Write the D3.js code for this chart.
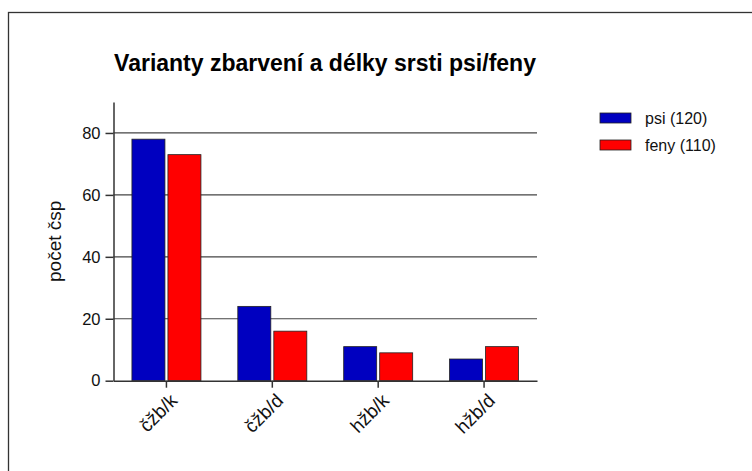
<!DOCTYPE html>
<html>
<head>
<meta charset="utf-8">
<script src="https://cdn.jsdelivr.net/npm/d3@7"></script>
<style>
  body { margin: 0; background: #fff; }
  svg { display: block; font-family: "Liberation Sans", Arial, sans-serif; }
</style>
</head>
<body>
<svg id="chart" width="752" height="471"></svg>
<script>
// data
var categories = ["čžb/k", "čžb/d", "hžb/k", "hžb/d"];
var seriesNames = ["psi (120)", "feny (110)"];
var psi = [78, 24, 11, 7];
var feny = [73, 16, 9, 11];
var yTicks = [0, 20, 40, 60, 80];
var colors = ["#0000c0", "#ff0000"];

var svg = d3.select("#chart");

var margins = { top: 102, left: 113.5, right: 537, bottom: 380.7 };

// outer frame, cut off at right and bottom like in the original
svg.append("rect")
    .attr("x", 8.5).attr("y", 12.5)
    .attr("width", 800).attr("height", 500)
    .attr("fill", "none")
    .attr("stroke", "#333")
    .attr("stroke-width", 1.3);

var x = d3.scaleBand()
    .domain(categories)
    .range([margins.left, margins.right]);

var y = d3.scaleLinear()
    .domain([0, 90])
    .range([margins.bottom, margins.top]);

// gridlines
svg.append("g")
    .selectAll("line")
    .data(yTicks.filter(function(d) { return d > 0; }))
    .enter().append("line")
    .attr("x1", margins.left).attr("x2", margins.right)
    .attr("y1", function(d) { return y(d); })
    .attr("y2", function(d) { return y(d); })
    .attr("stroke", "#444")
    .attr("stroke-width", 1.2);

// bars
var barW = 33, gap = 3;
var rows = [];
categories.forEach(function(c, i) {
    rows.push({ cat: c, s: 0, v: psi[i] });
    rows.push({ cat: c, s: 1, v: feny[i] });
});

svg.append("g")
    .selectAll("rect")
    .data(rows)
    .enter().append("rect")
    .attr("x", function(d) {
        var mid = x(d.cat) + x.bandwidth() / 2;
        return d.s === 0 ? mid - gap / 2 - barW : mid + gap / 2;
    })
    .attr("y", function(d) { return y(d.v); })
    .attr("width", barW)
    .attr("height", function(d) { return y(0) - y(d.v); })
    .attr("fill", function(d) { return colors[d.s]; })
    .attr("stroke", "#222")
    .attr("stroke-width", 0.8);

// y axis
var yAxis = d3.axisLeft(y)
    .tickValues(yTicks)
    .tickSize(8)
    .tickPadding(5)
    .tickSizeOuter(0);

var gy = svg.append("g")
    .attr("transform", "translate(" + margins.left + ",0)")
    .call(yAxis);
gy.select(".domain").attr("stroke", "#333").attr("stroke-width", 1.5);
gy.selectAll(".tick line").attr("stroke", "#333").attr("stroke-width", 1.5);
gy.selectAll(".tick text")
    .attr("font-size", 16.5)
    .attr("font-family", "Liberation Sans, Arial, sans-serif")
    .attr("fill", "#111");

// x axis
var xAxis = d3.axisBottom(x)
    .tickSize(7)
    .tickSizeOuter(0);

var gx = svg.append("g")
    .attr("transform", "translate(0," + margins.bottom + ")")
    .call(xAxis);
gx.select(".domain").attr("stroke", "#333").attr("stroke-width", 1.5);
gx.selectAll(".tick line").attr("stroke", "#333").attr("stroke-width", 1.5);
gx.selectAll(".tick text")
    .attr("font-size", 19)
    .attr("font-family", "Liberation Sans, Arial, sans-serif")
    .attr("fill", "#111")
    .attr("text-anchor", "end")
    .attr("dx", 0)
    .attr("dy", 0)
    .attr("transform", "translate(5,14) rotate(-45)");

// y label
svg.append("text")
    .attr("transform", "translate(61," + ((margins.top + margins.bottom) / 2) + ") rotate(-90)")
    .attr("text-anchor", "middle")
    .attr("font-size", 19)
    .attr("fill", "#111")
    .text("počet čsp");

// title
svg.append("text")
    .attr("x", 325)
    .attr("y", 71)
    .attr("text-anchor", "middle")
    .attr("font-size", 23)
    .attr("font-weight", "bold")
    .attr("fill", "#000")
    .text("Varianty zbarvení a délky srsti psi/feny");

// legend
var legend = svg.append("g")
    .selectAll("g")
    .data(seriesNames)
    .enter().append("g")
    .attr("transform", function(d, i) { return "translate(600," + (118 + i * 27) + ")"; });

legend.append("rect")
    .attr("x", 0).attr("y", -5)
    .attr("width", 31).attr("height", 10)
    .attr("fill", function(d, i) { return colors[i]; })
    .attr("stroke", "#222")
    .attr("stroke-width", 0.8);

legend.append("text")
    .attr("x", 45).attr("y", 0)
    .attr("dy", "0.35em")
    .attr("font-size", 16)
    .attr("fill", "#111")
    .text(function(d) { return d; });
</script>
</body>
</html>
